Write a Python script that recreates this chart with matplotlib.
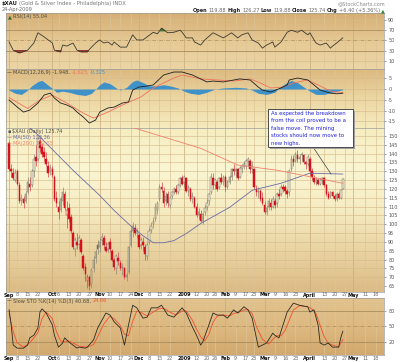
import matplotlib
matplotlib.use('Agg')
import matplotlib.pyplot as plt
import numpy as np
import pandas as pd
from matplotlib.colors import LinearSegmentedColormap
from matplotlib.patches import Rectangle

# ---- data -------------------------------------------------------------
holidays = ['2008-11-27', '2008-12-25', '2009-01-01', '2009-01-19',
            '2009-02-16', '2009-04-10', '2009-05-25']

# daily OHLC, Sep 2 2008 .. Apr 24 2009 (trading days)
opens = [146,131,129,125,130,122,113,114,113,118,123,122,130,138,137,147,144,141,137,133,130,
         131,127,115,110,108,113,117,105,109,104,95,86,90,89,91,82,76,68,70,66,75,81,88,
         87,91,92,87,86,90,85,80,75,81,78,75,75,70,73,88,96,98,95,
         94,88,90,87,82,90,97,100,103,108,114,121,119,113,117,111,116,118,120,118,122,126,
         124,126,119,120,114,115,110,105,106,102,107,110,113,118,126,122,124,121,126,124,
         127,121,124,127,131,130,131,127,132,133,133,136,136,132,131,120,118,119,115,
         111,107,110,112,110,113,112,117,117,121,121,119,118,131,137,136,139,137,139,139,135,134,
         137,130,126,124,125,123,125,126,122,117,116,118,116,114,117,115,119.88]
highs = [147,134,132,131,131,124,117,116,119,127,127,131,140,145,150,149,146,144,141,136,134,
         133,128,119,113,116,121,119,113,112,106,96,93,95,94,92,83,78,72,71,75,82,86,91,
         92,95,94,90,90,92,86,81,83,84,80,78,76,73,88,98,101,100,98,
         95,93,93,89,90,98,101,104,112,113,123,124,121,118,119,116,119,121,122,123,127,128,
         128,127,122,121,118,116,112,109,108,107,111,114,118,129,129,126,125,127,129,128,
         128,125,128,132,134,132,132,133,134,136,137,138,137,136,132,122,121,120,118,
         113,111,115,114,116,115,118,120,123,123,122,120,131,139,139,141,142,140,141,140,136,140,
         138,132,128,127,126,126,127,127,123,119,119,119,117,118,118,120,126.27]
lows = [130,127,125,124,122,112,111,109,112,117,119,121,127,133,136,141,138,136,133,127,128,
        127,113,110,103,107,111,108,98,101,95,86,82,86,86,83,74,68,64,63,64,73,78,83,
        84,88,86,84,84,84,79,74,72,77,74,71,69,68,72,87,93,94,92,
        86,86,85,80,80,89,95,98,102,106,113,118,110,111,110,109,114,117,117,117,121,122,
        121,118,116,113,112,109,104,103,101,100,105,108,111,117,120,120,119,120,123,122,
        119,120,123,125,128,127,125,126,129,131,131,133,129,129,120,116,115,113,111,
        106,105,108,108,109,109,110,114,116,118,117,115,116,130,133,135,135,134,136,134,131,133,
        128,125,123,122,122,122,123,121,116,114,115,115,113,113,114,114.5,119.88]
closes = [131,130,126,129,123,113,115,112,117,124,121,130,137,136,148,143,140,138,134,129,132,
          128,114,112,107,114,118,109,108,103,96,87,91,88,92,84,75,72,70,65,74,80,84,86,
          90,93,88,85,89,86,80,76,82,79,75,76,70,71,87,96,99,95,96,
          87,91,88,83,88,96,99,102,110,112,121,120,112,116,112,115,118,120,118,122,126,123,
          127,119,121,114,116,110,105,107,102,106,109,112,117,127,122,125,120,126,124,127,
          121,124,127,131,130,131,126,132,133,134,136,137,131,133,121,118,119,114,112,
          107,109,113,110,114,111,117,116,121,120,119,117,130,137,135,140,137,138,140,135,134,138,
          130,127,124,125,123,125,126,122,117,115,118,116,114,117,115,119.34,125.74]

ma50_days = [0, 14, 31, 44, 51, 60, 65, 70, 75, 80, 86, 93, 107, 118, 132, 146, 162]
ma50_vals = [165, 150.6, 130.6, 116.3, 107.8, 98, 93.5, 89.5, 89.5, 90.7, 94.7, 100.4,
             109.5, 119.2, 123.2, 128.9, 128.4]
ma200_days = [40, 58, 93, 111, 130, 162]
ma200_vals = [160, 155.5, 143, 133.5, 130.6, 123.2]

rsi_days = [0,2,5,9,12,14,17,21,22,25,26,28,31,33,35,38,40,42,44,46,48,50,51,54,57,60,62,65,
            67,70,72,74,77,80,83,84,86,89,90,93,95,99,101,104,108,111,113,116,118,121,123,125,
            128,129,132,135,137,140,142,145,146,149,151,154,156,157,159,162]
rsi_vals = [47,31,26,31,45,65,57,45,31,28,41,39,45,31,28,28,37,45,51,45,47,41,47,37,37,61,51,51,
            57,66,63,74,65,66,70,66,55,55,47,41,51,65,61,55,65,55,61,65,51,45,35,41,
            47,37,47,66,70,66,70,61,65,45,41,45,35,39,45,55.04]

macd_days = [0,4,7,10,14,17,20,22,25,28,31,33,36,39,42,44,48,51,55,58,60,63,67,70,75,80,84,89,
             93,96,99,104,112,117,121,123,127,132,135,136,140,145,148,151,156,159,162]
macd_vals = [-5.1,-8.4,-10.7,-9.8,-6.5,-2.8,-1.9,-4.2,-6.5,-7.4,-8.8,-10.7,-13,-15.8,-14.4,-10.7,
             -8.8,-8.4,-6.5,-6,-0.5,0.9,1.4,1.9,6.5,7.9,7.9,6.5,4.7,3.3,3.7,3.3,4.7,4.2,0.9,-0.5,
             -1.4,0.5,1.9,4.2,5.1,4.2,1.9,-0.5,-1.9,-2.2,-1.95]
signal_days = [0,9,15,21,28,36,41,48,55,64,70,73,80,84,93,101,109,117,122,127,133,138,145,150,
               154,157,162]
signal_vals = [-4,-9,-5.1,-2.8,-6.5,-11.2,-13.5,-10.7,-7.4,-3.7,0.5,1.9,5.1,6.5,4.7,4.2,3.7,4.7,
               2.8,0.5,0.9,2.8,4.2,1.9,0,-1.2,-1.62]
hist_days = [0,3,6,9,11,14,16,18,21,23,26,29,33,37,40,42,44,46,49,52,54,57,60,62,65,68,72,75,78,
             82,85,88,92,96,100,104,110,115,118,121,125,129,131,134,137,140,143,146,149,153,157,
             160,162]
hist_vals = [-0.5,-2,-2.5,-0.5,1.5,3.5,4,2.5,0.3,-1.5,-1,-1.5,-2.5,-3,-2,0,2,3.3,2.5,0.5,-0.5,
             0.8,3.5,4.2,3,1.5,1.5,2,1.5,0.5,-1,-2,-2.5,-1.5,0,0.5,0.8,0.5,-0.5,-2,-2.5,-1.5,0.5,
             2.5,4,3,1,-1,-2.5,-2.5,-1.5,-0.8,-0.33]

k_days = [0,1,2,4,7,9,10,12,14,15,16,18,21,22,24,26,27,29,31,33,34,37,38,41,43,47,49,51,54,56,
          58,60,62,65,67,69,72,74,77,80,84,86,89,91,93,94,97,99,101,104,106,109,111,114,116,118,
          121,123,125,128,129,131,133,135,138,141,145,146,148,150,151,153,155,157,160,161,162]
k_vals = [82,53,14,8,8,14,28,33,47,78,84,76,53,33,10,18,28,20,14,8,10,8,10,24,47,76,72,59,47,14,
          53,91,86,66,68,86,86,91,72,68,86,76,49,33,14,20,53,76,72,72,66,82,76,88,82,66,
          10,14,18,37,33,28,53,78,95,91,88,78,82,53,18,14,18,10,10,28,40.68]
d_days = [0,2,4,7,10,12,14,16,18,21,23,25,27,29,31,34,38,41,43,46,49,51,54,56,58,60,62,65,67,70,
          73,75,78,81,84,86,89,91,93,95,97,99,101,104,107,109,112,114,116,118,120,123,126,128,
          130,132,134,136,138,141,145,147,149,151,153,155,157,160,162]
d_vals = [75,40,18,10,18,28,38,65,78,65,40,22,20,22,18,12,10,15,30,55,70,65,52,35,32,60,80,75,
          70,78,85,85,78,72,80,80,62,45,30,22,35,58,70,72,70,75,78,82,82,75,50,25,16,25,
          32,32,42,62,82,90,88,84,75,52,30,17,14,11,24.66]

tick_dates = ['2008-09-02','2008-09-08','2008-09-15','2008-09-22','2008-10-01','2008-10-06',
              '2008-10-13','2008-10-20','2008-10-27','2008-11-03','2008-11-10','2008-11-17',
              '2008-11-24','2008-12-01','2008-12-08','2008-12-15','2008-12-22','2009-01-02',
              '2009-01-12','2009-01-20','2009-01-26','2009-02-02','2009-02-09','2009-02-17',
              '2009-02-23','2009-03-02','2009-03-09','2009-03-16','2009-03-23','2009-04-01',
              '2009-04-13','2009-04-20','2009-04-27','2009-05-01','2009-05-11','2009-05-18']
tick_text = ['Sep','8','15','22','Oct','6','13','20','27','Nov','10','17','24','Dec','8','15',
             '22','2009','12','20','26','Feb','9','17','23','Mar','9','16','23','April','13',
             '20','27','May','11','18']

# ---- layout -----------------------------------------------------------
W, H = 400, 362
fig = plt.figure(figsize=(W / 100, H / 100), dpi=100)
fig.patch.set_facecolor('white')

days = pd.bdate_range('2008-09-02', '2009-05-29')
days = days[~days.isin(pd.to_datetime(holidays))]
tick_pos = [days.get_loc(pd.Timestamp(d)) for d in tick_dates]
is_month = [not t.isdigit() or t == '2009' for t in tick_text]
XLIM = (-1.5, 182)


def px_axes(x0, y0, x1, y1):
	return fig.add_axes([x0 / W, 1 - y1 / H, (x1 - x0) / W, (y1 - y0) / H])


def setup(ax, ylim, yticks, stops, strong=(), dashed=()):
	cmap = LinearSegmentedColormap.from_list('bg', stops)
	ax.imshow(np.linspace(0, 1, 256).reshape(-1, 1), aspect='auto', cmap=cmap,
			  extent=(XLIM[0], XLIM[1], ylim[0], ylim[1]), origin='upper', zorder=0)
	ax.set_xlim(*XLIM)
	ax.set_ylim(*ylim)
	for p, m in zip(tick_pos, is_month):
		ax.axvline(p, color='#c9aa78' if m else '#dcc498', lw=0.5, zorder=1)
	for v in yticks:
		if v in strong:
			ax.axhline(v, color='#a88c5c', lw=0.6, zorder=1)
		elif v in dashed:
			ax.axhline(v, color='#a88c5c', lw=0.5, ls=(0, (5, 2, 1, 2)), zorder=1)
		else:
			ax.axhline(v, color='#d6bc8c', lw=0.45, zorder=1)
	ax.yaxis.tick_right()
	ax.set_yticks(yticks)
	ax.set_yticklabels([str(v) for v in yticks])
	ax.tick_params(axis='y', labelsize=3.5, length=1.5, width=0.4, pad=1.5,
				   colors='#555555')
	ax.set_xticks([])
	for s in ax.spines.values():
		s.set_color('#9c9c9c')
		s.set_linewidth(0.5)


ax_rsi = px_axes(6, 13, 384, 69)
ax_macd = px_axes(6, 69, 384, 128)
ax_px = px_axes(6, 128, 384, 292)
ax_sto = px_axes(6, 298, 384, 355)

setup(ax_rsi, (-5.7, 103.6), [10, 30, 50, 70, 90], ['#d6ae74', '#e6c994', '#ecd6a6'],
	  strong=(30, 70), dashed=(50,))
setup(ax_macd, (-18.1, 9.3), [5, 0, -5, -10, -15], ['#dcb97f', '#ecd6a3', '#f6ebbe'])
setup(ax_px, (61.6, 154.5), list(range(65, 151, 5)),
	  ['#f6edc0', '#faf5d2', '#f6ecc2', '#e9d3a1', '#dcbb85'])
setup(ax_sto, (-5.2, 105), [20, 50, 80], ['#e2c38e', '#ddb981', '#d2a86e'],
	  strong=(20, 80), dashed=(50,))

# ---- RSI --------------------------------------------------------------
ax_rsi.plot(rsi_days, rsi_vals, color='#3c3a30', lw=0.6, zorder=3)
r = np.array(rsi_vals, dtype=float)
ax_rsi.fill_between(rsi_days, r, 30, where=r < 30, interpolate=True, color='#9b3a32', zorder=2)
ax_rsi.fill_between(rsi_days, r, 70, where=r > 70, interpolate=True, color='#3f7a3a', zorder=2)

# ---- MACD -------------------------------------------------------------
ax_macd.fill_between(hist_days, hist_vals, 0, color='#3f92c8', lw=0, zorder=2)
ax_macd.plot(signal_days, signal_vals, color='#f0715a', lw=0.6, zorder=3)
ax_macd.plot(macd_days, macd_vals, color='#1e1e1e', lw=0.6, zorder=4)

# ---- price ------------------------------------------------------------
o = np.array(opens, dtype=float)
h = np.array(highs, dtype=float)
l = np.array(lows, dtype=float)
c = np.array(closes, dtype=float)
idx = np.arange(len(c))
prev = np.r_[o[0], c[:-1]]
down = c < prev
edge = np.where(down, '#d3121c', '#6f6b5c')
wick = np.where(down, '#d84048', '#8e8a78')
face = np.where(c < o, edge, '#f3eed6')
ax_px.vlines(idx, l, h, colors=wick, lw=0.5, zorder=3)
ax_px.bar(idx, np.maximum(np.abs(c - o), 0.4), bottom=np.minimum(o, c), width=0.75,
		  color=face, edgecolor=edge, linewidth=0.35, zorder=4)
ax_px.plot(ma50_days, ma50_vals, color='#6b6ba6', lw=0.6, zorder=5)
ax_px.plot(ma200_days, ma200_vals, color='#f2806e', lw=0.6, zorder=5)

# ---- stochastic -------------------------------------------------------
ax_sto.plot(d_days, d_vals, color='#f2502e', lw=0.6, zorder=3)
ax_sto.plot(k_days, k_vals, color='#2a2a22', lw=0.6, zorder=4)

# ---- date labels ------------------------------------------------------
for ax, ypx in ((ax_px, 295), (ax_sto, 358.5)):
	for p, t, m in zip(tick_pos, tick_text, is_month):
		xf = ax.transData.transform((p, 0))[0] / W
		fig.text(xf, 1 - ypx / H, t, fontsize=3.5, ha='center', va='center',
				 fontweight='bold' if m else 'normal', color='#111111' if m else '#666666')

# ---- texts ------------------------------------------------------------
renderer = fig.canvas.get_renderer()


def seg_text(x, y, parts, size, ha='left', gap=1.2):
	objs = [fig.text(0, 1 - y / H, s, fontsize=size, fontweight=w, color=col, va='center')
			for s, w, col in parts]
	widths = [t.get_window_extent(renderer).width for t in objs]
	start = x if ha == 'left' else x - sum(widths) - gap * (len(objs) - 1)
	for t, wd in zip(objs, widths):
		t.set_x(start / W)
		start += wd + gap


seg_text(2, 4, [('$XAU', 'bold', '#222222'),
				('(Gold & Silver Index - Philadelphia) INDX', 'normal', '#777777')], 3.8)
fig.text(2 / W, 1 - 10 / H, '24-Apr-2009', fontsize=3.6, color='#666666', va='center')
fig.text(385 / W, 1 - 4 / H, '@StockCharts.com', fontsize=3.6, color='#888888',
		 va='center', ha='right')
seg_text(385, 10.5, [('Open', 'bold', '#222222'), ('119.88', 'normal', '#666666'),
					 ('High', 'bold', '#222222'), ('126.27', 'normal', '#666666'),
					 ('Low', 'bold', '#222222'), ('119.88', 'normal', '#666666'),
					 ('Close', 'bold', '#222222'), ('125.74', 'normal', '#666666'),
					 ('Chg', 'bold', '#222222'), ('+6.40 (+5.36%)', 'normal', '#666666'),
					 ('\u25b2', 'normal', '#2e8b2e')], 3.6, ha='right')

seg_text(8, 16.5, [('\u25b2', 'normal', '#2f6a2a'), ('RSI(14) 55.04', 'normal', '#4a4a40')], 3.6)
seg_text(7, 72.5, [('\u2014', 'normal', '#222222'), ('MACD(12,26,9) -1.948,', 'normal', '#4a4a40'),
				   ('-1.623,', 'normal', '#f0715a'), ('-0.325', 'normal', '#3f92c8')], 3.6)
seg_text(7, 131.5, [('\u25aa', 'normal', '#555555'), ('$XAU (Daily) 125.74', 'normal', '#4a4a40')], 3.6)
seg_text(7, 137.5, [('\u2014', 'normal', '#6b6ba6'), ('MA(50) 128.36', 'normal', '#6b6ba6')], 3.6)
seg_text(7, 143.5, [('\u2014', 'normal', '#f2806e'), ('MA(200) 122.55', 'normal', '#f2806e')], 3.6)
seg_text(7, 301, [('\u2014', 'normal', '#222222'), ('Slow STO %K(14) %D(3) 40.68,', 'normal', '#4a4a40'),
				  ('24.66', 'normal', '#f2502e')], 3.6)

# ---- annotation -------------------------------------------------------
bx0, by0, bx1, by1 = 268, 109, 353, 147
fig.patches.append(Rectangle((bx0 / W + 2 / W, 1 - by1 / H - 2 / H), (bx1 - bx0) / W, (by1 - by0) / H,
							 transform=fig.transFigure, facecolor='#a0a0a0', edgecolor='none', zorder=20))
fig.patches.append(Rectangle((bx0 / W, 1 - by1 / H), (bx1 - bx0) / W, (by1 - by0) / H,
							 transform=fig.transFigure, facecolor='white', edgecolor='#333333',
							 lw=0.6, zorder=21))
note = ['As expected the breakdown', 'from the coil proved to be a',
		'false move. The mining', 'stocks should now move to', 'new highs.']
for i, line in enumerate(note):
	fig.text(271 / W, 1 - (113.3 + i * 7.5) / H, line, fontsize=3.9, color='#2323d8',
			 va='center', ha='left', zorder=22)
fig.lines.append(plt.Line2D([313 / W, 331 / W], [1 - 147 / H, 1 - 174 / H],
							transform=fig.transFigure, color='#444444', lw=0.5, zorder=19))

fig.savefig('out.png', dpi=100)
